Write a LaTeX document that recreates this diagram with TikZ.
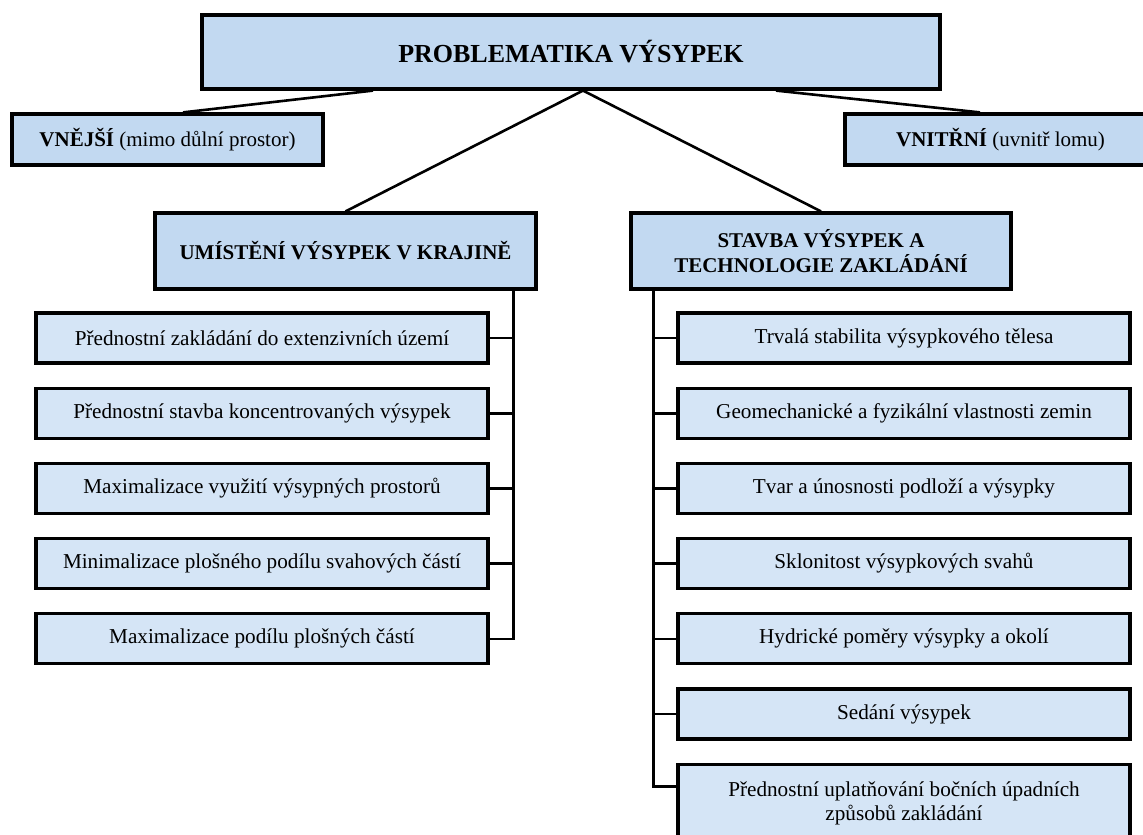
\documentclass[tikz,border=0pt]{standalone}
\usepackage{fontspec}
\setmainfont{Liberation Serif}
\usetikzlibrary{calc,chains,positioning}

\definecolor{headblue}{RGB}{194,217,241}
\definecolor{itemblue}{RGB}{213,229,246}

\tikzset{
  box/.style={draw=black,line width=1.6pt,fill=headblue,inner sep=0pt,align=center,
    font=\fontsize{10.5}{12.5}\selectfont},
  item/.style={box,fill=itemblue,minimum width=226pt,minimum height=25pt,
    font=\fontsize{10.6}{12}\selectfont},
  conn/.style={line width=1.3pt}
}

\begin{document}
\begin{tikzpicture}[x=0.5pt,y=-0.5pt]

\useasboundingbox (0,0) rectangle (1143,834);
\clip (0,0) rectangle (1143,834);

\node [box,minimum width=369pt,minimum height=37pt,font=\fontsize{13}{15}\selectfont]
  (top) at (571,52) {\textbf{PROBLEMATIKA VÝSYPEK}};

\node [box,minimum width=155.5pt,minimum height=25.5pt] (ext) at (167.5,139.5)
  {\textbf{VNĚJŠÍ} (mimo důlní prostor)};
\node [box,minimum width=155.5pt,minimum height=25.5pt] (int) at (1000.5,139.5)
  {\textbf{VNITŘNÍ} (uvnitř lomu)};

\node [box,minimum width=190.5pt,minimum height=38pt] (loc) at (345.5,251)
  {\textbf{UMÍSTĚNÍ VÝSYPEK V KRAJINĚ}};
\node [box,minimum width=190pt,minimum height=38pt] (tech) at (821,251)
  {\textbf{STAVBA VÝSYPEK A}\\\textbf{TECHNOLOGIE ZAKLÁDÁNÍ}};

% left column
\begin{scope}[shift={(262,338)},start chain=going below,node distance=11pt]
\def\lefthdr{1/{Přednostní zakládání do extenzivních území},
  2/{Přednostní stavba koncentrovaných výsypek},
  3/{Maximalizace využití výsypných prostorů},
  4/{Minimalizace plošného podílu svahových částí},
  5/{Maximalizace podílu plošných částí}}
\foreach \i / \element in \lefthdr
  \node [item,on chain] (l\i) {\element};
\end{scope}

% right column
\begin{scope}[shift={(904,338)},start chain=going below,node distance=11pt]
\def\righthdr{1/{Trvalá stabilita výsypkového tělesa},
  2/{Geomechanické a fyzikální vlastnosti zemin},
  3/{Tvar a únosnosti podloží a výsypky},
  4/{Sklonitost výsypkových svahů},
  5/{Hydrické poměry výsypky a okolí},
  6/{Sedání výsypek}}
\foreach \i / \element in \righthdr
  \node [item,on chain] (r\i) {\element};
\node [item,on chain,minimum height=39pt] (r7)
  {Přednostní uplatňování bočních úpadních\\způsobů zakládání};
\end{scope}

\draw[conn] ([xshift=-99pt]top.south) -- ([xshift=7.75pt]ext.north);
\draw[conn] ([xshift=102.5pt]top.south) -- ([xshift=-10.25pt]int.north);
\draw[conn] ([xshift=6pt]top.south) -- (loc.north);
\draw[conn] ([xshift=6pt]top.south) -- (tech.north);

\coordinate (ltrunk) at ([xshift=-12pt]loc.south east);
\coordinate (rtrunk) at ([xshift=12pt]tech.south west);

\draw[conn] (ltrunk) |- (l5.east);
\foreach \i in {1,...,4}
  \draw[conn] (l\i.east) -- (l\i.east -| ltrunk);

\draw[conn] (rtrunk) |- ([yshift=8.5pt]r7.west);
\foreach \i in {1,...,6}
  \draw[conn] (r\i.west) -- (r\i.west -| rtrunk);

\end{tikzpicture}
\end{document}
